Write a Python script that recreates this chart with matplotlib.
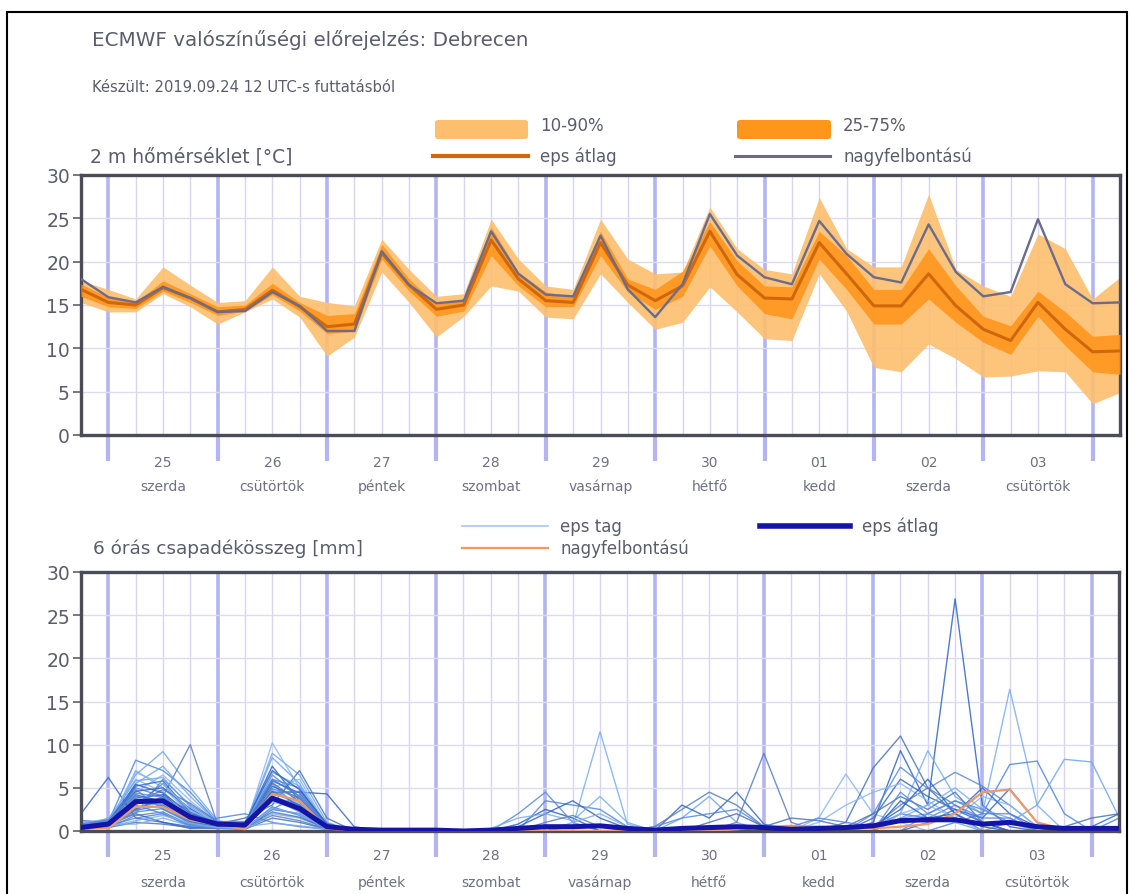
import numpy as np
import matplotlib
matplotlib.use("Agg")
import matplotlib.pyplot as plt
from matplotlib.patches import Rectangle, FancyBboxPatch
from matplotlib.lines import Line2D
import matplotlib.transforms as mtransforms

# ---------------- data ----------------
hours = [18, 24, 30, 36, 42, 48, 54, 60, 66, 72, 78, 84, 90, 96, 102, 108, 114, 120,
         126, 132, 138, 144, 150, 156, 162, 168, 174, 180, 186, 192, 198, 204, 210,
         216, 222, 228, 234, 240, 246]
day_bounds = [24, 48, 72, 96, 120, 144, 168, 192, 216, 240]
day_numbers = ["25", "26", "27", "28", "29", "30", "01", "02", "03"]
day_names = ["szerda", "csütörtök", "péntek", "szombat", "vasárnap", "hétfő",
             "kedd", "szerda", "csütörtök"]

hres_t = [18.0, 15.9, 15.3, 17.1, 15.8, 14.2, 14.3, 16.5, 14.9, 12.0, 12.0, 21.2, 17.3,
          15.2, 15.5, 23.5, 18.6, 16.2, 16.0, 23.0, 16.8, 13.6, 17.4, 25.5, 20.7, 18.2,
          17.4, 24.7, 20.9, 18.2, 17.6, 24.3, 18.8, 16.0, 16.5, 24.9, 17.4, 15.2, 15.3]
mean_t = [16.8, 15.3, 15.0, 17.0, 15.8, 14.2, 14.5, 16.7, 14.8, 12.5, 12.8, 21.0, 17.3,
          14.5, 15.0, 22.5, 18.0, 15.5, 15.3, 22.2, 17.3, 15.5, 17.2, 23.5, 18.5, 15.8,
          15.7, 22.2, 18.6, 14.9, 14.9, 18.6, 14.9, 12.2, 10.9, 15.3, 12.2, 9.6, 9.7]
q75_t = [17.4, 15.9, 15.3, 17.8, 16.3, 14.8, 15.0, 17.5, 15.3, 13.8, 14.0, 22.0, 18.0,
         15.1, 15.7, 24.0, 18.8, 16.5, 16.0, 23.5, 18.0, 16.8, 18.9, 24.6, 20.1, 17.2,
         17.1, 23.5, 20.7, 16.8, 16.8, 21.5, 17.2, 13.7, 12.6, 16.6, 14.2, 11.4, 11.6]
q25_t = [16.0, 14.8, 14.6, 16.6, 15.3, 13.8, 14.3, 16.2, 14.3, 11.7, 12.0, 20.3, 16.6,
         13.7, 14.3, 20.7, 17.2, 14.8, 14.8, 20.7, 16.5, 14.5, 16.0, 21.8, 17.2, 14.0,
         13.4, 20.3, 16.8, 12.8, 12.8, 15.7, 13.0, 10.7, 9.3, 13.7, 10.3, 7.3, 7.0]
q90_t = [17.8, 16.8, 15.7, 19.4, 17.3, 15.3, 15.5, 19.4, 16.0, 15.3, 14.9, 22.6, 19.1,
         16.0, 16.3, 24.9, 20.3, 17.2, 16.8, 24.9, 20.3, 18.6, 18.8, 26.3, 21.5, 19.1,
         18.6, 27.4, 21.5, 19.4, 19.4, 27.8, 19.1, 17.2, 16.0, 23.2, 21.5, 15.7, 18.2]
q10_t = [15.3, 14.2, 14.2, 16.3, 14.8, 12.8, 14.2, 15.7, 13.6, 9.1, 11.3, 18.8, 15.3,
         11.3, 13.7, 17.2, 16.6, 13.6, 13.4, 18.6, 15.3, 12.2, 13.0, 17.1, 14.2, 11.1,
         10.9, 18.6, 14.3, 7.8, 7.3, 10.5, 8.8, 6.7, 6.8, 7.4, 7.3, 3.6, 4.9]

# precipitation ensemble members: {time index: value}, other steps are 0
precip_members = [
    {0: 0.5, 1: 1.0, 2: 8.2, 3: 7.0, 4: 4.5, 5: 1.0, 6: 0.8, 7: 6.0, 8: 4.0, 9: 0.5},
    {0: 0.3, 1: 0.8, 2: 6.5, 3: 9.2, 4: 5.0, 5: 1.2, 6: 0.5, 7: 9.0, 8: 6.5, 9: 1.0},
    {0: 2.0, 1: 6.2, 2: 1.5, 3: 1.0, 4: 0.5, 5: 0.3, 6: 1.0, 7: 4.5, 8: 4.5, 9: 4.3, 10: 0.5},
    {0: 0.6, 1: 1.0, 2: 5.0, 3: 4.0, 4: 10.0, 5: 0.8, 6: 0.6, 7: 5.5, 8: 2.5, 9: 0.3},
    {0: 0.5, 1: 1.5, 2: 4.5, 3: 6.5, 4: 3.5, 5: 1.0, 6: 0.3, 7: 10.2, 8: 5.0, 9: 0.5},
    {0: 0.4, 1: 0.8, 2: 3.0, 3: 5.5, 4: 2.0, 5: 0.8, 6: 1.5, 7: 3.0, 8: 7.0, 9: 1.5},
    {0: 1.2, 1: 1.0, 2: 2.5, 3: 4.0, 4: 1.5, 5: 0.5, 6: 0.8, 7: 7.5, 8: 3.5, 9: 0.3,
     16: 0.8, 17: 2.5, 18: 1.5},
    {0: 0.2, 1: 0.5, 2: 7.0, 3: 5.0, 4: 2.0, 5: 0.6, 6: 0.4, 7: 2.0, 8: 1.5, 9: 0.2,
     18: 0.5, 19: 11.5, 20: 0.8},
    {0: 0.8, 1: 1.2, 2: 3.5, 3: 3.0, 4: 0.8, 5: 0.5, 6: 0.5, 7: 6.5, 8: 4.0, 9: 0.8,
     16: 2.0, 17: 4.5, 18: 1.0},
    {0: 0.5, 1: 0.6, 2: 1.5, 3: 2.0, 4: 0.5, 5: 1.5, 6: 2.0, 7: 1.0, 8: 0.5, 9: 0.2,
     17: 3.5, 18: 3.0, 19: 2.5, 20: 0.5},
    {0: 0.3, 1: 0.5, 2: 5.5, 3: 7.5, 4: 4.0, 5: 1.0, 6: 0.7, 7: 8.5, 8: 5.5, 9: 0.5,
     22: 1.5, 23: 4.0, 24: 1.0},
    {0: 0.6, 1: 0.9, 2: 2.0, 3: 1.0, 4: 0.3, 5: 0.4, 6: 0.3, 7: 2.5, 8: 2.0, 9: 0.3,
     22: 3.0, 23: 1.5, 24: 4.5, 25: 0.8},
    {0: 0.4, 1: 0.7, 2: 4.0, 3: 3.5, 4: 2.5, 5: 0.6, 6: 0.6, 7: 4.0, 8: 3.0, 9: 0.4,
     24: 1.0, 25: 9.0, 26: 1.0},
    {0: 0.7, 1: 1.1, 2: 6.0, 3: 4.5, 4: 1.0, 5: 0.7, 6: 0.9, 7: 5.0, 8: 6.0, 9: 0.6,
     27: 1.5, 28: 6.6, 29: 2.0, 30: 1.0},
    {0: 0.3, 1: 0.4, 2: 1.0, 3: 0.8, 4: 0.4, 5: 0.3, 6: 0.2, 7: 1.5, 8: 1.0, 9: 0.2,
     28: 1.0, 29: 7.3, 30: 11.0, 31: 5.0, 32: 2.0},
    {0: 0.5, 1: 0.9, 2: 3.8, 3: 4.2, 4: 1.8, 5: 0.9, 6: 0.5, 7: 3.5, 8: 2.8, 9: 0.4,
     29: 1.0, 30: 9.3, 31: 3.0, 32: 26.9, 33: 3.0, 34: 0.5},
    {0: 0.4, 1: 0.6, 2: 2.8, 3: 3.2, 4: 1.2, 5: 0.6, 6: 0.4, 7: 4.8, 8: 3.2, 9: 0.3,
     30: 2.0, 31: 9.3, 32: 4.0, 33: 2.0, 34: 16.4, 35: 3.0},
    {0: 0.6, 1: 1.0, 2: 4.8, 3: 2.5, 4: 0.9, 5: 0.5, 6: 0.7, 7: 3.8, 8: 2.2, 9: 0.5,
     29: 2.0, 30: 7.4, 31: 4.9, 32: 6.8, 33: 5.2, 34: 3.0, 35: 0.5},
    {0: 0.3, 1: 0.5, 2: 2.2, 3: 2.6, 4: 1.0, 5: 0.4, 6: 0.3, 7: 2.8, 8: 1.8, 9: 0.2,
     32: 1.0, 33: 2.0, 34: 7.7, 35: 8.1, 36: 2.0},
    {0: 0.5, 1: 0.8, 2: 3.2, 3: 3.8, 4: 1.6, 5: 0.7, 6: 0.6, 7: 4.2, 8: 3.6, 9: 0.4,
     34: 1.0, 35: 3.0, 36: 8.3, 37: 8.0, 38: 1.6},
    {0: 0.4, 1: 0.7, 2: 5.2, 3: 5.8, 4: 2.2, 5: 0.9, 6: 0.5, 7: 5.8, 8: 4.4, 9: 0.6,
     29: 1.5, 30: 6.0, 31: 4.0, 32: 2.5, 33: 1.5, 34: 4.9, 35: 1.0, 37: 0.5, 38: 2.0},
    {0: 0.2, 1: 0.4, 2: 1.8, 3: 2.2, 4: 0.7, 5: 0.3, 6: 0.3, 7: 1.8, 8: 1.2, 9: 0.2,
     21: 0.5, 22: 2.5, 23: 4.5, 24: 3.0, 25: 0.5, 29: 0.5, 30: 3.0, 31: 5.0, 32: 3.0, 33: 1.0},
    {0: 0.5, 1: 0.9, 2: 3.6, 3: 4.6, 4: 1.4, 5: 0.6, 6: 0.6, 7: 3.4, 8: 2.4, 9: 0.3,
     27: 1.0, 28: 3.0, 29: 4.5, 30: 5.5, 31: 3.5, 32: 1.5, 33: 4.0, 34: 3.0, 35: 0.5},
    {0: 0.3, 1: 0.6, 2: 2.4, 3: 3.0, 4: 1.1, 5: 0.5, 6: 0.4, 7: 2.2, 8: 1.6, 9: 0.3,
     25: 0.5, 26: 1.5, 27: 1.2, 28: 0.5, 29: 2.0, 30: 4.0, 31: 2.5, 32: 4.5, 33: 1.0,
     36: 0.5, 37: 1.5, 38: 2.0},
    {0: 0.6, 1: 1.0, 2: 4.2, 3: 3.4, 4: 1.3, 5: 0.8, 6: 0.8, 7: 4.6, 8: 3.0, 9: 0.5,
     16: 0.5, 17: 2.0, 18: 3.5, 19: 1.5, 20: 0.3, 29: 0.5, 30: 2.5, 31: 6.0, 32: 2.0,
     33: 5.0, 34: 2.0, 35: 0.5},
    {0: 0.4, 1: 0.8, 2: 0.8, 3: 1.5, 4: 0.6, 5: 0.4, 6: 0.5, 7: 0.9, 8: 0.6, 9: 0.2,
     15: 0.3, 16: 1.5, 17: 2.0, 18: 1.2, 19: 4.0, 20: 1.0, 30: 1.5, 31: 3.0, 32: 5.0,
     33: 2.5, 34: 1.5},
    {0: 0.5, 1: 0.7, 2: 2.0, 3: 6.0, 4: 3.0, 5: 1.0, 6: 0.4, 7: 2.5, 8: 4.2, 9: 0.6,
     21: 0.5, 22: 1.5, 23: 2.0, 24: 2.5, 25: 0.5, 30: 4.5, 31: 2.0, 32: 3.5, 33: 2.0, 34: 2.0},
    {0: 0.3, 1: 0.6, 2: 3.0, 3: 2.0, 4: 0.6, 5: 0.4, 6: 0.3, 7: 6.0, 8: 5.0, 9: 0.4,
     26: 0.5, 27: 1.5, 28: 1.0, 29: 0.5, 30: 2.0, 31: 1.5, 32: 3.0, 33: 1.5, 34: 1.5, 38: 1.5},
    {0: 0.9, 1: 1.4, 2: 5.8, 3: 6.2, 4: 2.8, 5: 0.9, 6: 0.7, 7: 6.8, 8: 5.2, 9: 0.7,
     30: 1.5, 31: 2.0, 32: 1.0},
    {0: 0.4, 1: 0.9, 2: 4.6, 3: 5.0, 4: 2.6, 5: 0.7, 6: 0.5, 7: 5.2, 8: 3.8, 9: 0.5,
     31: 1.0, 32: 2.5, 33: 1.0},
    {0: 0.7, 1: 1.3, 2: 3.2, 3: 4.8, 4: 3.2, 5: 1.1, 6: 1.1, 7: 4.4, 8: 4.6, 9: 0.9,
     17: 1.0, 18: 1.8, 19: 0.5},
    {0: 0.5, 1: 0.8, 2: 6.8, 3: 5.4, 4: 2.4, 5: 0.8, 6: 0.6, 7: 3.6, 8: 2.6, 9: 0.4,
     30: 2.0, 31: 3.0, 32: 1.5},
    {0: 0.3, 1: 0.7, 2: 2.6, 3: 3.6, 4: 1.9, 5: 0.6, 6: 0.4, 7: 5.6, 8: 3.4, 9: 0.3,
     23: 1.0, 24: 2.0, 25: 0.5},
    {0: 0.6, 1: 1.1, 2: 5.4, 3: 4.4, 4: 2.0, 5: 1.0, 6: 0.9, 7: 7.0, 8: 4.8, 9: 0.8,
     30: 3.5, 31: 1.5, 32: 2.0, 33: 0.5},
    {0: 0.2, 1: 0.5, 2: 1.2, 3: 1.8, 4: 0.9, 5: 0.4, 6: 0.3, 7: 2.6, 8: 2.0, 9: 0.2,
     18: 1.0, 19: 2.0, 20: 0.5},
    {0: 0.8, 1: 1.2, 2: 4.4, 3: 3.9, 4: 1.7, 5: 0.9, 6: 0.7, 7: 4.9, 8: 3.9, 9: 0.6,
     31: 2.0, 32: 3.5, 33: 2.5, 34: 1.0},
]
mean_p = [0.4, 0.8, 3.4, 3.5, 1.6, 0.8, 0.7, 3.8, 2.6, 0.5, 0.2, 0.1, 0.1, 0.1, 0.0,
          0.1, 0.3, 0.5, 0.5, 0.6, 0.3, 0.1, 0.3, 0.4, 0.5, 0.4, 0.2, 0.3, 0.4, 0.6,
          1.2, 1.3, 1.3, 0.8, 1.0, 0.5, 0.3, 0.3, 0.3]
hres_p = [0.3, 0.3, 2.8, 2.8, 1.3, 0.7, 0.2, 4.3, 3.5, 0.3, 0.0, 0.0, 0.0, 0.0, 0.0,
          0.0, 0.0, 0.0, 0.0, 0.0, 0.0, 0.0, 0.0, 0.0, 0.2, 0.5, 0.6, 0.5, 0.3, 0.3,
          0.5, 0.8, 2.0, 4.5, 4.8, 1.0, 0.2, 0.0, 0.0]

# ---------------- figure ----------------
W, H = 1131, 895
fig = plt.figure(figsize=(W / 100, H / 100), dpi=100)
plt.rcParams['font.family'] = ['DejaVu Sans']

TXT = '#5c5c6c'
C_1090 = '#FDBE6E'
C_2575 = '#FF961C'
C_MEAN_T = '#D0670C'
C_HRES_T = '#6b6b8e'
GRID_THIN = '#d6d6f4'
GRID_DAY = '#b4b4f2'
GRID_H = '#dcdcf0'
SPINE = '#4c4c58'


def fx(px):
    return px / W


def fy(py):
    return 1 - py / H


def style_axis(ax, top_px, bot_px, num_px, name_px):
    hgt = bot_px - top_px
    ax.set_xlim(hours[0], hours[-1])
    ax.set_ylim(0, 30)
    ax.set_yticks([0, 5, 10, 15, 20, 25, 30])
    ax.set_xticks(day_bounds)
    ax.set_xticklabels([])
    minor = [h for h in hours if h not in day_bounds]
    ax.set_xticks(minor, minor=True)
    ax.tick_params(axis='x', which='major', length=19, width=3, color=GRID_DAY,
                   direction='out')
    ax.tick_params(axis='x', which='minor', length=0)
    ax.tick_params(axis='y', length=6, width=1.2, color='#606068', labelsize=13.5,
                   labelcolor=TXT, pad=2)
    ax.grid(axis='x', which='major', color=GRID_DAY, lw=2.6, zorder=0)
    ax.grid(axis='x', which='minor', color=GRID_THIN, lw=1.0, zorder=0)
    ax.grid(axis='y', which='major', color=GRID_H, lw=1.0, zorder=0)
    ax.set_axisbelow(True)
    for s in ax.spines.values():
        s.set_color(SPINE)
        s.set_linewidth(2.4)
    trans = mtransforms.blended_transform_factory(ax.transData, ax.transAxes)
    for i, (dn, nm) in enumerate(zip(day_numbers, day_names)):
        xc = day_bounds[i] + 12
        ax.text(xc, -(num_px - bot_px) / hgt, dn, transform=trans, ha='center',
                va='center', fontsize=10, color='#707080')
        ax.text(xc, -(name_px - bot_px) / hgt, nm, transform=trans, ha='center',
                va='center', fontsize=10, color='#707080')


# ---- temperature panel ----
ax1 = fig.add_axes([fx(81), fy(436), fx(1120) - fx(81), (436 - 176) / H])
style_axis(ax1, 176, 436, 463, 487)
ax1.fill_between(hours, q10_t, q90_t, color=C_1090, lw=0, alpha=0.9, zorder=2)
ax1.fill_between(hours, q25_t, q75_t, color=C_2575, lw=0, alpha=0.9, zorder=3)
ax1.plot(hours, mean_t, color=C_MEAN_T, lw=2.2, zorder=4)
ax1.plot(hours, hres_t, color=C_HRES_T, lw=1.7, zorder=5)

# ---- precipitation panel ----
ax2 = fig.add_axes([fx(81), fy(832), fx(1119) - fx(81), (832 - 573) / H])
style_axis(ax2, 573, 832, 856, 883)
member_colors = ['#4f86e6', '#6fa6f2', '#3468c8', '#5a7fc0', '#89b8f4', '#4a74b4',
                 '#2f63c4', '#7aaeee', '#5b8ad8']
for i, m in enumerate(precip_members):
    vals = [m.get(k, 0.0) for k in range(len(hours))]
    ax2.plot(hours, vals, color=member_colors[i % len(member_colors)], lw=1.0,
             alpha=0.85, zorder=2)
ax2.plot(hours, hres_p, color='#ec9a6a', lw=1.6, zorder=3)
ax2.plot(hours, mean_p, color='#1414a8', lw=3.6, zorder=4)

# ---------------- texts ----------------
fig.text(fx(92), fy(40), "ECMWF valószínűségi előrejelzés: Debrecen", fontsize=14.3,
         color=TXT, va='center', ha='left')
fig.text(fx(92), fy(87), "Készült: 2019.09.24 12 UTC-s futtatásból", fontsize=10.6,
         color=TXT, va='center', ha='left')
fig.text(fx(90), fy(157), "2 m hőmérséklet [°C]", fontsize=13.5, color=TXT,
         va='center', ha='left')
fig.text(fx(93), fy(549), "6 órás csapadékösszeg [mm]", fontsize=13.3, color=TXT,
         va='center', ha='left')

# top legend
fig.add_artist(FancyBboxPatch((fx(435), fy(140)), fx(528) - fx(435), (140 - 121) / H,
                              boxstyle='round,pad=0,rounding_size=0.003',
                              transform=fig.transFigure, color=C_1090, lw=0))
fig.add_artist(FancyBboxPatch((fx(737), fy(140)), fx(831) - fx(737), (140 - 121) / H,
                              boxstyle='round,pad=0,rounding_size=0.003',
                              transform=fig.transFigure, color=C_2575, lw=0))
fig.add_artist(Line2D([fx(433), fx(528)], [fy(157), fy(157)], color=C_MEAN_T, lw=3,
                      transform=fig.transFigure))
fig.add_artist(Line2D([fx(735), fx(830)], [fy(157), fy(157)], color=C_HRES_T, lw=2.2,
                      transform=fig.transFigure))
for x, y, s in [(540, 126, "10-90%"), (540, 157, "eps átlag"), (843, 126, "25-75%"),
                (843, 157, "nagyfelbontású")]:
    fig.text(fx(x), fy(y), s, fontsize=12, color=TXT, va='center', ha='left')

# bottom legend
fig.add_artist(Line2D([fx(462), fx(548)], [fy(527), fy(527)], color='#a9c6ee', lw=1.2,
                      transform=fig.transFigure))
fig.add_artist(Line2D([fx(760), fx(850)], [fy(527), fy(527)], color='#1414a8', lw=4,
                      transform=fig.transFigure))
fig.add_artist(Line2D([fx(462), fx(548)], [fy(549), fy(549)], color='#f09a5a', lw=1.6,
                      transform=fig.transFigure))
for x, y, s in [(560, 527, "eps tag"), (862, 527, "eps átlag"), (560, 549, "nagyfelbontású")]:
    fig.text(fx(x), fy(y), s, fontsize=12, color=TXT, va='center', ha='left')

# outer frame
fig.add_artist(Rectangle((fx(7), fy(905)), fx(1127) - fx(7), (905 - 13) / H, fill=False,
                         ec='black', lw=1.5, transform=fig.transFigure, clip_on=False))

fig.savefig("out.png", dpi=100)
